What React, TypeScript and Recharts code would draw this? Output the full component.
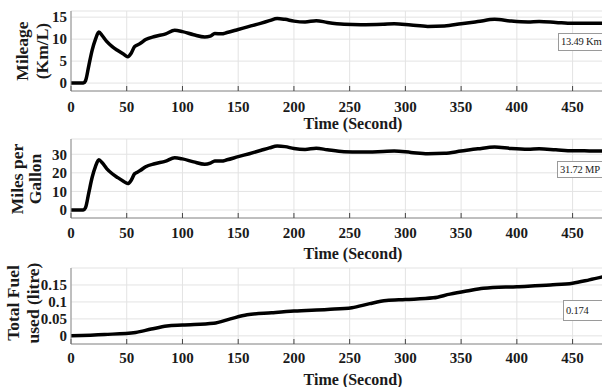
import React from 'react';
import { LineChart, Line, XAxis, YAxis, CartesianGrid } from 'recharts';

// sampled time points (seconds) for mileage / mpg
const timeSec = [0, 5, 11, 13, 16, 19, 22, 25, 28, 32, 37, 42, 47, 51, 54, 57, 59, 62, 67, 75, 85, 93, 100, 110, 120, 125, 129, 135, 140, 150, 160, 170, 178, 185, 192, 200, 210, 220, 230, 245, 260, 280, 290, 305, 320, 335, 350, 365, 380, 395, 410, 420, 435, 450, 465, 480];
const mileageKmL = [0, 0, 0, 0.5, 4, 7.5, 10, 11.6, 10.8, 9.5, 8.3, 7.4, 6.6, 6.0, 6.8, 8.3, 8.6, 9.0, 9.9, 10.6, 11.2, 12.0, 11.7, 11.0, 10.5, 10.7, 11.3, 11.2, 11.5, 12.2, 12.9, 13.6, 14.2, 14.7, 14.5, 14.1, 13.9, 14.2, 13.8, 13.4, 13.3, 13.4, 13.5, 13.2, 12.9, 13.0, 13.5, 14.0, 14.5, 14.1, 13.9, 14.0, 13.8, 13.6, 13.6, 13.6];
const milesPerGallon = [0, 0, 0, 1.2, 9.4, 17.6, 23.5, 27.0, 25.4, 22.3, 19.5, 17.4, 15.5, 14.2, 16.0, 19.5, 20.2, 21.2, 23.3, 24.9, 26.3, 28.1, 27.5, 25.9, 24.6, 25.2, 26.4, 26.3, 27.0, 28.7, 30.3, 32.0, 33.4, 34.4, 34.1, 33.1, 32.6, 33.2, 32.4, 31.4, 31.2, 31.5, 31.7, 31.0, 30.3, 30.5, 31.7, 32.9, 33.9, 33.1, 32.7, 32.9, 32.4, 31.9, 31.8, 31.72];

const fuelTime = [0, 30, 58, 72, 86, 100, 128, 143, 158, 180, 200, 230, 252, 268, 283, 300, 325, 340, 355, 370, 400, 430, 450, 465, 480];
const fuelLitre = [0, 0.004, 0.01, 0.02, 0.029, 0.032, 0.037, 0.05, 0.062, 0.068, 0.073, 0.078, 0.083, 0.095, 0.104, 0.107, 0.112, 0.123, 0.132, 0.14, 0.145, 0.15, 0.155, 0.165, 0.176];

const timeTicks = [0, 50, 100, 150, 200, 250, 300, 350, 400, 450];
const mileageTicks = [0, 5, 10, 15];
const mpgTicks = [0, 10, 20, 30];
const fuelTicks = [0, 0.05, 0.1, 0.15];

const mileageData = timeSec.map((t, i) => ({ t, v: mileageKmL[i] }));
const mpgData = timeSec.map((t, i) => ({ t, v: milesPerGallon[i] }));
const fuelData = fuelTime.map((t, i) => ({ t, v: fuelLitre[i] }));

const SERIF = '"Liberation Serif", "Times New Roman", serif';
const tickStyle = { fontFamily: SERIF, fontWeight: 700, fontSize: 15, fill: '#1a1a1a' };
const AXIS = '#8c8c8c';

type PanelProps = {
  top: number;
  height: number;
  marginTop: number;
  xAxisHeight: number;
  tickMargin: number;
  data: { t: number; v: number }[];
  yDomain: [number, number];
  yTicks: number[];
  labels: [string, string];
  labelX: [number, number];
  labelY: number;
  titleY: number;
  tip: string;
  tipBox: { left: number; top: number; height: number };
};

const Panel = (p: PanelProps) => (
  <div style={{ position: 'absolute', left: 0, top: p.top }}>
    <LineChart width={650} height={p.height} data={p.data} margin={{ top: p.marginTop, right: 15, left: 0, bottom: 0 }}>
      <CartesianGrid stroke="#e3e3e3" strokeWidth={1} />
      <XAxis
        dataKey="t"
        type="number"
        domain={[0, 506]}
        ticks={timeTicks}
        allowDataOverflow
        height={p.xAxisHeight}
        tickSize={-5}
        tickMargin={p.tickMargin}
        tick={tickStyle}
        stroke={AXIS}
        tickLine={{ stroke: '#444' }}
        label={{
          content: () => (
            <text x={353} y={p.titleY} textAnchor="middle" dominantBaseline="central"
              style={{ fontFamily: SERIF, fontWeight: 700, fontSize: 16, fill: '#1a1a1a' }}>
              Time (Second)
            </text>
          ),
        }}
      />
      <XAxis
        xAxisId="top"
        orientation="top"
        dataKey="t"
        type="number"
        domain={[0, 506]}
        ticks={timeTicks}
        allowDataOverflow
        height={0}
        tickSize={-5}
        tick={false}
        stroke="#b5b5b5"
        tickLine={{ stroke: '#444' }}
      />
      <YAxis
        type="number"
        domain={p.yDomain}
        ticks={p.yTicks}
        allowDataOverflow
        width={71}
        tickLine={false}
        tickSize={0}
        tickMargin={4}
        tick={tickStyle}
        stroke={AXIS}
        interval={0}
        label={{
          content: () => (
            <g style={{ fontFamily: SERIF, fontWeight: 700, fontSize: 17.5, fill: '#1a1a1a' }}>
              {p.labels.map((s, i) => (
                <text key={s} x={p.labelX[i]} y={p.labelY} textAnchor="middle" dominantBaseline="central"
                  transform={`rotate(-90, ${p.labelX[i]}, ${p.labelY})`}>
                  {s}
                </text>
              ))}
            </g>
          ),
        }}
      />
      <Line type="monotone" dataKey="v" stroke="#000" strokeWidth={3.5} dot={false} isAnimationActive={false} />
    </LineChart>
    {/* datatip box, cropped at the right edge like the source figure */}
    <div
      style={{
        position: 'absolute',
        left: p.tipBox.left,
        top: p.tipBox.top - p.top,
        width: 602 - p.tipBox.left - 3,
        height: p.tipBox.height,
        lineHeight: `${p.tipBox.height}px`,
        padding: '0 0 0 2px',
        border: '1px solid #9a9a9a',
        borderRight: 'none',
        background: '#fff',
        fontFamily: SERIF,
        fontSize: 10.5,
        letterSpacing: -0.2,
        color: '#1a1a1a',
        whiteSpace: 'nowrap',
      }}
    >
      {p.tip}
    </div>
  </div>
);

export default function App() {
  return (
    <div style={{ position: 'fixed', left: 0, top: 0, width: 602, height: 387, overflow: 'hidden', background: '#fff' }}>
      <Panel
        top={0}
        height={134}
        marginTop={11}
        xAxisHeight={43}
        tickMargin={15}
        data={mileageData}
        yDomain={[-1.8, 16.4]}
        yTicks={mileageTicks}
        labels={['Mileage', '(Km/L)']}
        labelX={[22, 42]}
        labelY={51}
        titleY={123}
        tip="13.49 Km"
        tipBox={{ left: 558, top: 33, height: 16 }}
      />
      <Panel
        top={130}
        height={133}
        marginTop={9}
        xAxisHeight={45}
        tickMargin={14}
        data={mpgData}
        yDomain={[-4.3, 38.2]}
        yTicks={mpgTicks}
        labels={['Miles per', 'Gallon']}
        labelX={[17, 35]}
        labelY={49}
        titleY={123}
        tip="31.72 MP"
        tipBox={{ left: 557, top: 161, height: 15 }}
      />
      <Panel
        top={258}
        height={129}
        marginTop={10}
        xAxisHeight={43}
        tickMargin={13}
        data={fuelData}
        yDomain={[-0.024, 0.2]}
        yTicks={fuelTicks}
        labels={['Total Fuel', 'used (litre)']}
        labelX={[13, 33]}
        labelY={45}
        titleY={121}
        tip="0.174"
        tipBox={{ left: 563, top: 300, height: 19 }}
      />
    </div>
  );
}
